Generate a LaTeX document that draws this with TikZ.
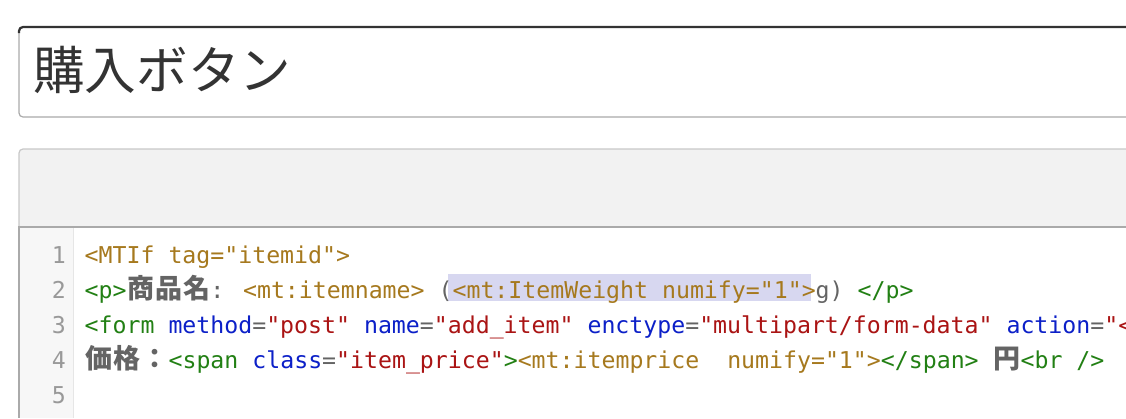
\documentclass[tikz,border=0pt]{standalone}
\usepackage{fontspec}
\newfontfamily\codefont{DejaVu Sans Mono}
\newfontfamily\cjk{Noto Sans CJK JP}
\definecolor{mtgold}{RGB}{166,121,30}
\definecolor{tagc}{RGB}{34,128,20}
\definecolor{attrc}{RGB}{12,32,200}
\definecolor{strc}{RGB}{170,20,20}
\definecolor{txtc}{RGB}{100,100,100}
\definecolor{numc}{RGB}{153,153,153}
\definecolor{titlec}{RGB}{51,51,51}
\definecolor{boxc}{RGB}{170,170,170}
\definecolor{barc}{RGB}{242,242,242}
\definecolor{panelc}{RGB}{200,200,200}
\definecolor{gutc}{RGB}{247,247,247}
\definecolor{gutline}{RGB}{230,230,230}
\definecolor{hl}{RGB}{215,215,240}
\newcommand{\tg}[1]{\textcolor{mtgold}{#1}}
\newcommand{\tn}[1]{\textcolor{tagc}{#1}}
\newcommand{\attr}[1]{\textcolor{attrc}{#1}}
\newcommand{\strg}[1]{\textcolor{strc}{#1}}
\newcommand{\tx}[1]{\textcolor{txtc}{#1}}
\newcommand{\zw}[1]{\makebox[27.96pt]{\color{txtc}\cjk\bfseries\fontsize{27}{28}\selectfont #1}}
\begin{document}
\begin{tikzpicture}[x=1pt, y=-1pt,
        code/.style={anchor=base west, inner sep=0pt, font=\codefont\fontsize{23.2}{28}\selectfont},
        lnum/.style={anchor=base east, inner sep=0pt, text=numc, font=\codefont\fontsize{23.2}{28}\selectfont} ]
    \useasboundingbox (0,0) rectangle (1126,418);
    \clip (0,0) rectangle (1126,418);
    % title box
    \draw[boxc, line width=1.2pt, fill=white, rounded corners=4pt] (1140,27) -- (19,27) -- (19,117) -- (1140,117);
    \draw[titlec, line width=2.2pt, rounded corners=4pt] (19,33) |- (1140,27);
    \node[anchor=base west, inner sep=0pt, text=titlec, font=\cjk\fontsize{51.6}{60}\selectfont] (title) at (33,89.5) {購入ボタン};
    % editor panel
    \draw[panelc, line width=1.2pt, fill=barc, rounded corners=4pt] (19,227) -- (19,149) -- (1140,149) -- (1140,227);
    \fill[white] (19,227) rectangle (1140,418);
    \fill[gutc] (20,227) rectangle (73,418);
    \draw[gutline] (73,228) -- (73,418);
    \draw[boxc, line width=2pt] (19,227) -- (1140,227);
    \draw[boxc, line width=2pt] (19,226) -- (19,418);
    \fill[hl] (448,274) rectangle (811,301);
    \foreach \n in {1,...,5}
        \node[lnum] (n\n) at (66,228.5+35*\n) {\n};
    \node[code] (l1) at (84.5,263.5) {\tg{<MTIf tag="itemid">}};
    \node[code] (l2) at (84.5,298.5) {\tn{<p>}\zw{商}\zw{品}\zw{名}\tx{: }\tg{<mt:itemname>} \tx{(}\tg{<mt:ItemWeight numify="1">}\tx{g) }\tn{</p>}};
    \node[code] (l3) at (84.5,333.5) {\tn{<form} \attr{method}\tx{=}\strg{"post"} \attr{name}\tx{=}\strg{"add\_item"} \attr{enctype}\tx{=}\strg{"multipart/form-data"} \attr{action}\tx{=}\strg{"<}};
    \node[code] (l4) at (84.5,368.5) {\zw{価}\zw{格}\zw{：}\tn{<span} \attr{class}\tx{=}\strg{"item\_price"}\tn{>}\tg{<mt:itemprice\ \ numify="1">}\tn{</span>} \zw{円}\tn{<br />}};
    \end{tikzpicture}
\end{document}
